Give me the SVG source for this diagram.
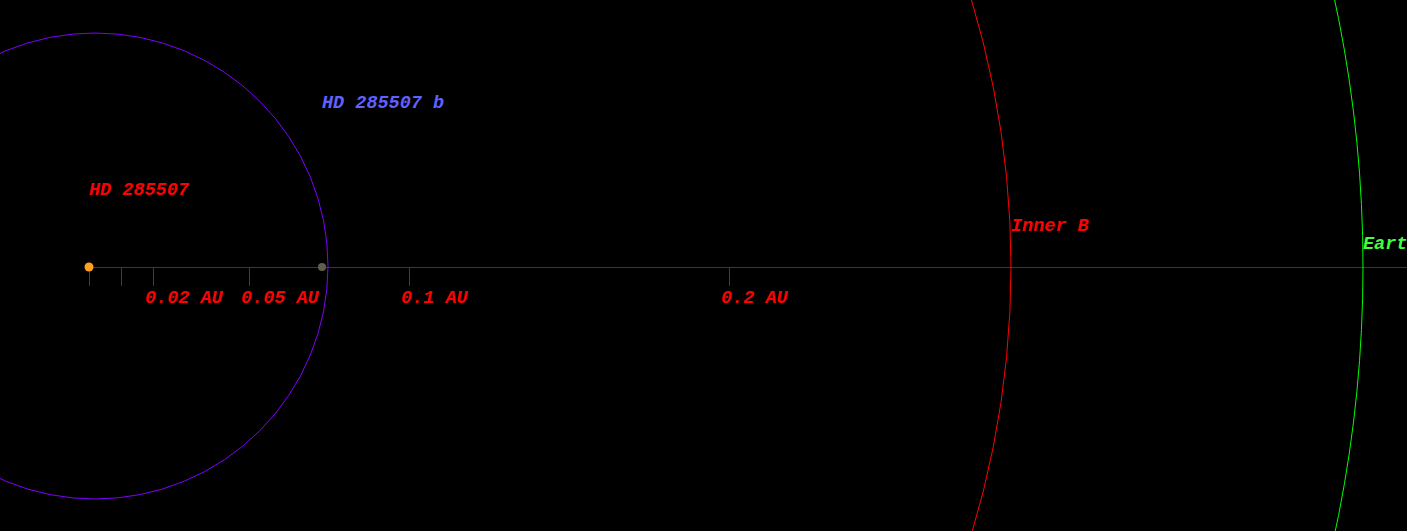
<svg xmlns="http://www.w3.org/2000/svg" width="1407" height="531" viewBox="0 0 1407 531">
<style>
.lbl{font-family:"Liberation Mono","Courier New",monospace;font-style:italic;font-weight:bold;font-size:18.5px;fill:#ff0000}
.tick{stroke:#d00000;stroke-width:1}
.orb{fill:none;stroke-width:1}
</style>
<rect x="0" y="0" width="1407" height="531" fill="#000000"/>
<g id="connectors">
<line x1="89" y1="267.5" x2="1407" y2="267.5" stroke="#c00000" stroke-width="1"/>
<line class="tick" x1="89.5" y1="267" x2="89.5" y2="286"/>
<line class="tick" x1="121.5" y1="267" x2="121.5" y2="286"/>
<line class="tick" x1="153.5" y1="267" x2="153.5" y2="286"/>
<line class="tick" x1="249.5" y1="267" x2="249.5" y2="286"/>
<line class="tick" x1="409.5" y1="267" x2="409.5" y2="286"/>
<line class="tick" x1="729.5" y1="267" x2="729.5" y2="286"/>
</g>
<g id="orbit-b"><circle class="orb" cx="95" cy="266" r="233" stroke="#8000ff"/></g>
<g id="inner-b"><circle class="orb" cx="89" cy="267" r="922" stroke="#ff0000"/><text class="lbl" x="1011" y="231">Inner B</text></g>
<g id="earth"><circle class="orb" cx="89" cy="267" r="1274" stroke="#00ff00"/><text class="lbl" x="1363" y="249" style="fill:#40ff40">Eart</text></g>
<g id="star"><circle cx="89" cy="267" r="4.5" fill="#ffa020"/><text class="lbl" x="89" y="195">HD 285507</text></g>
<g id="planet"><circle cx="322" cy="267" r="4" fill="#606048"/><text class="lbl" x="322" y="108" style="fill:#6060ff">HD 285507 b</text></g>
<g id="scale">
<text class="lbl" x="145" y="303">0.02 AU</text>
<text class="lbl" x="241" y="303">0.05 AU</text>
<text class="lbl" x="401" y="303">0.1 AU</text>
<text class="lbl" x="721" y="303">0.2 AU</text>
</g>
</svg>
